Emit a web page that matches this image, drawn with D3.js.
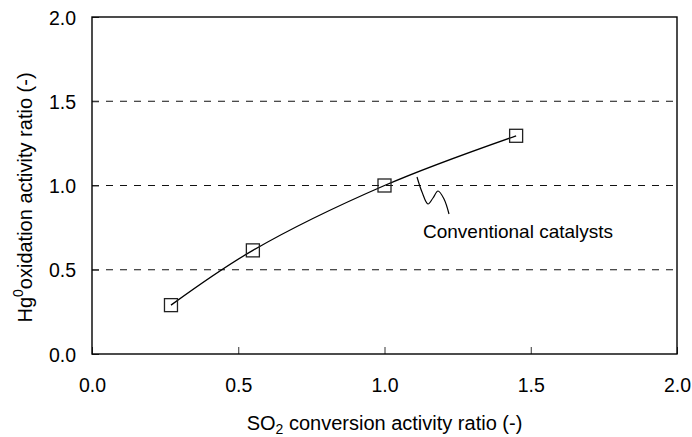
<!DOCTYPE html>
<meta charset="utf-8">
<style>
    body { margin: 0; background: #fff; }
    text { font-family: "Liberation Sans", Arial, sans-serif; fill: #000; }
    .tick text { font-size: 19.5px; }
    .grid line { stroke: #111; stroke-width: 1; stroke-dasharray: 7,7; }
</style>
<body>
<script src="https://d3js.org/d3.v7.min.js"></script>
<script>

    var width = 692, height = 437;
    var margin = { left: 92, right: 15, top: 17, bottom: 83 };

    // data
    var so2Ratio = [0.27, 0.55, 1.0, 1.45];
    var hgRatio = [0.29, 0.615, 1.0, 1.295];
    var xTicks = [0.0, 0.5, 1.0, 1.5, 2.0];
    var yTicks = [0.0, 0.5, 1.0, 1.5, 2.0];
    var gridValues = [0.5, 1.0, 1.5];
    var seriesLabel = "Conventional catalysts";

    var svg = d3.select("body").append("svg")
        .attr("width", width)
        .attr("height", height);

    var x = d3.scaleLinear().domain([0, 2]).range([margin.left, width - margin.right]);
    var y = d3.scaleLinear().domain([0, 2]).range([height - margin.bottom, margin.top]);

    // dashed gridlines
    svg.append("g").attr("class", "grid")
        .selectAll("line").data(gridValues).enter().append("line")
        .attr("x1", x(0)).attr("x2", x(2))
        .attr("y1", d => y(d)).attr("y2", d => y(d));

    // axes (ticks point inward)
    var xAxis = svg.append("g")
        .attr("transform", "translate(0," + y(0) + ")")
        .call(d3.axisBottom(x).tickValues(xTicks).tickFormat(d3.format(".1f")).tickSizeInner(-7).tickSizeOuter(0).tickPadding(24));
    xAxis.select(".domain").remove();
    xAxis.selectAll(".tick line").attr("stroke", "#333");

    var yAxis = svg.append("g")
        .attr("transform", "translate(" + x(0) + ",0)")
        .call(d3.axisLeft(y).tickValues(yTicks).tickFormat(d3.format(".1f")).tickSizeInner(-7).tickSizeOuter(0).tickPadding(16));
    yAxis.select(".domain").remove();
    yAxis.selectAll(".tick line").attr("stroke", "#333");
    yAxis.selectAll(".tick text").attr("dy", "0.36em");

    // frame
    svg.append("rect")
        .attr("x", x(0)).attr("y", y(2))
        .attr("width", x(2) - x(0)).attr("height", y(0) - y(2))
        .attr("fill", "none").attr("stroke", "#000").attr("stroke-width", 1.4);

    var pts = so2Ratio.map((v, i) => [v, hgRatio[i]]);

    var line = d3.line()
        .curve(d3.curveCatmullRom.alpha(0.5))
        .x(d => x(d[0])).y(d => y(d[1]));

    svg.append("path")
        .datum(pts)
        .attr("d", line)
        .attr("fill", "none")
        .attr("stroke", "#000")
        .attr("stroke-width", 1.3);

    var s = 13;
    svg.append("g").selectAll("rect").data(pts).enter().append("rect")
        .attr("x", d => x(d[0]) - s / 2)
        .attr("y", d => y(d[1]) - s / 2)
        .attr("width", s).attr("height", s)
        .attr("fill", "none")
        .attr("stroke", "#222")
        .attr("stroke-width", 1.3);

    // squiggle pointing from the label to the curve
    var squiggle = d3.line().curve(d3.curveCatmullRom);
    svg.append("path")
        .attr("d", squiggle([[417, 177], [422, 192], [428, 204], [433, 198], [438, 191], [444, 199], [449, 214]]))
        .attr("fill", "none")
        .attr("stroke", "#000")
        .attr("stroke-width", 1.2);

    svg.append("text")
        .attr("x", 423).attr("y", 238)
        .style("font-size", "19px")
        .text(seriesLabel);

    // axis titles
    var xt = svg.append("text")
        .attr("x", (x(0) + x(2)) / 2).attr("y", 430)
        .attr("text-anchor", "middle")
        .style("font-size", "20px");
    xt.append("tspan").text("SO");
    xt.append("tspan").text("2").attr("dy", 4).style("font-size", "14px");
    xt.append("tspan").text(" conversion activity ratio (-)").attr("dy", -4);

    var yt = svg.append("text")
        .attr("transform", "translate(32," + ((y(0) + y(2)) / 2 + 12) + ")rotate(-90)")
        .attr("text-anchor", "middle")
        .style("font-size", "20px");
    yt.append("tspan").text("Hg");
    yt.append("tspan").text("0").attr("dy", -9).style("font-size", "14px");
    yt.append("tspan").text("oxidation activity ratio (-)").attr("dy", 9);

</script>
</body>
